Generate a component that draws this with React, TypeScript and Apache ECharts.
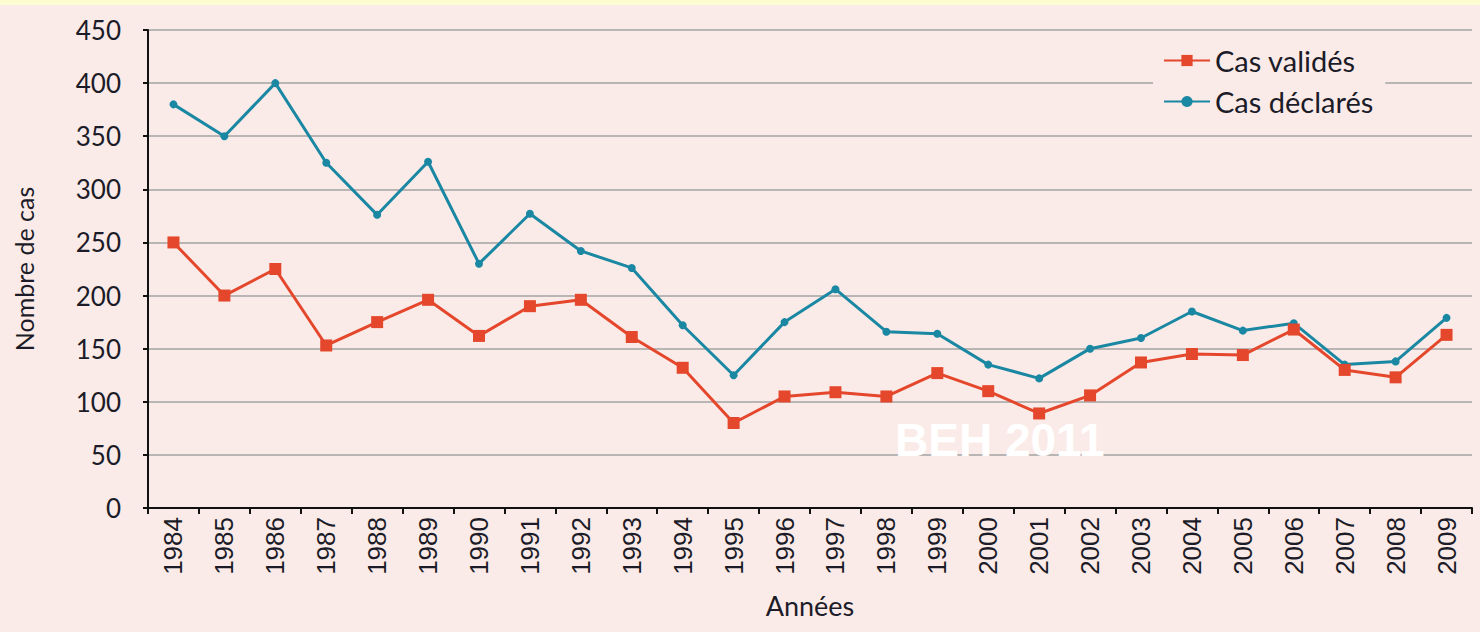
import React, { useEffect, useRef } from "react";
import * as echarts from "echarts";

const years = ["1984","1985","1986","1987","1988","1989","1990","1991","1992","1993","1994","1995","1996","1997","1998","1999","2000","2001","2002","2003","2004","2005","2006","2007","2008","2009"];
const casValides = [250,200,225,153,175,196,162,190,196,161,132,80,105,109,105,127,110,89,106,137,145,144,168,130,123,163];
const casDeclares = [380,350,400,325,276,326,230,277,242,226,172,125,175,206,166,164,135,122,150,160,185,167,174,135,138,179];
const seriesNames = ["Cas validés", "Cas déclarés"];

const BG = "#fbebe8";
const TXT = "#1c1c28";

export default function App() {
  const ref = useRef<HTMLDivElement>(null);
  useEffect(() => {
    document.body.style.margin = "0";
    const chart = echarts.init(ref.current!, null, { renderer: "svg" });
    chart.setOption({
      animation: false,
      backgroundColor: BG,
      grid: { left: 148, right: 8, top: 30, bottom: 124, containLabel: false, outerBoundsMode: "none" },
      legend: {
        left: 1153,
        top: 40,
        orient: "vertical",
        data: seriesNames,
        backgroundColor: BG,
        padding: [6, 12, 6, 10],
        itemGap: 12,
        itemWidth: 46,
        itemHeight: 14,
        textStyle: { fontFamily: "Lato", fontSize: 29, color: TXT },
      },
      xAxis: {
        type: "category",
        data: years,
        boundaryGap: true,
        name: "Années",
        nameLocation: "middle",
        nameGap: 84,
        nameTextStyle: { fontFamily: "Lato", fontSize: 27, color: TXT },
        axisLine: { lineStyle: { color: "#111", width: 2 } },
        axisTick: { show: true, length: 6, lineStyle: { color: "#111", width: 2 } },
        axisLabel: { rotate: 90, margin: 9, fontFamily: "Liberation Sans", fontSize: 26, color: TXT },
        splitLine: { show: false },
      },
      yAxis: {
        type: "value",
        min: 0,
        max: 450,
        interval: 50,
        name: "Nombre de cas",
        nameLocation: "middle",
        nameGap: 112,
        nameTextStyle: { fontFamily: "Lato", fontSize: 25, color: TXT },
        axisLine: { show: true, lineStyle: { color: "#111", width: 2 } },
        axisTick: { show: true, length: 5, lineStyle: { color: "#111", width: 2 } },
        axisLabel: { margin: 27, fontFamily: "Lato", fontSize: 26, color: TXT },
        splitLine: { lineStyle: { color: "#a3a3a3", width: 1.5 } },
      },
      series: [
        {
          name: seriesNames[0],
          type: "line",
          data: casValides,
          symbol: "rect",
          symbolSize: 12,
          color: "#e4472b",
          lineStyle: { width: 3, color: "#e4472b" },
          itemStyle: { color: "#e4472b" },
          z: 3,
        },
        {
          name: seriesNames[1],
          type: "line",
          data: casDeclares,
          symbol: "circle",
          symbolSize: 8,
          color: "#1a88a3",
          lineStyle: { width: 3, color: "#1a88a3" },
          itemStyle: { color: "#1a88a3" },
          z: 2,
        },
      ],
      graphic: [
        {
          type: "rect",
          left: 0,
          top: 0,
          shape: { width: 1480, height: 5 },
          style: { fill: "#fdfbd0" },
        },
        {
          type: "text",
          x: 895,
          y: 440,
          z: 10,
          style: {
            text: "BEH 2011",
            fontFamily: "Liberation Sans",
            fontWeight: "bold",
            fontSize: 46,
            fill: "#ffffff",
            verticalAlign: "middle",
          },
        },
      ],
    });
    return () => chart.dispose();
  }, []);
  return <div ref={ref} style={{ position: "absolute", left: 0, top: 0, width: 1480, height: 632 }} />;
}
